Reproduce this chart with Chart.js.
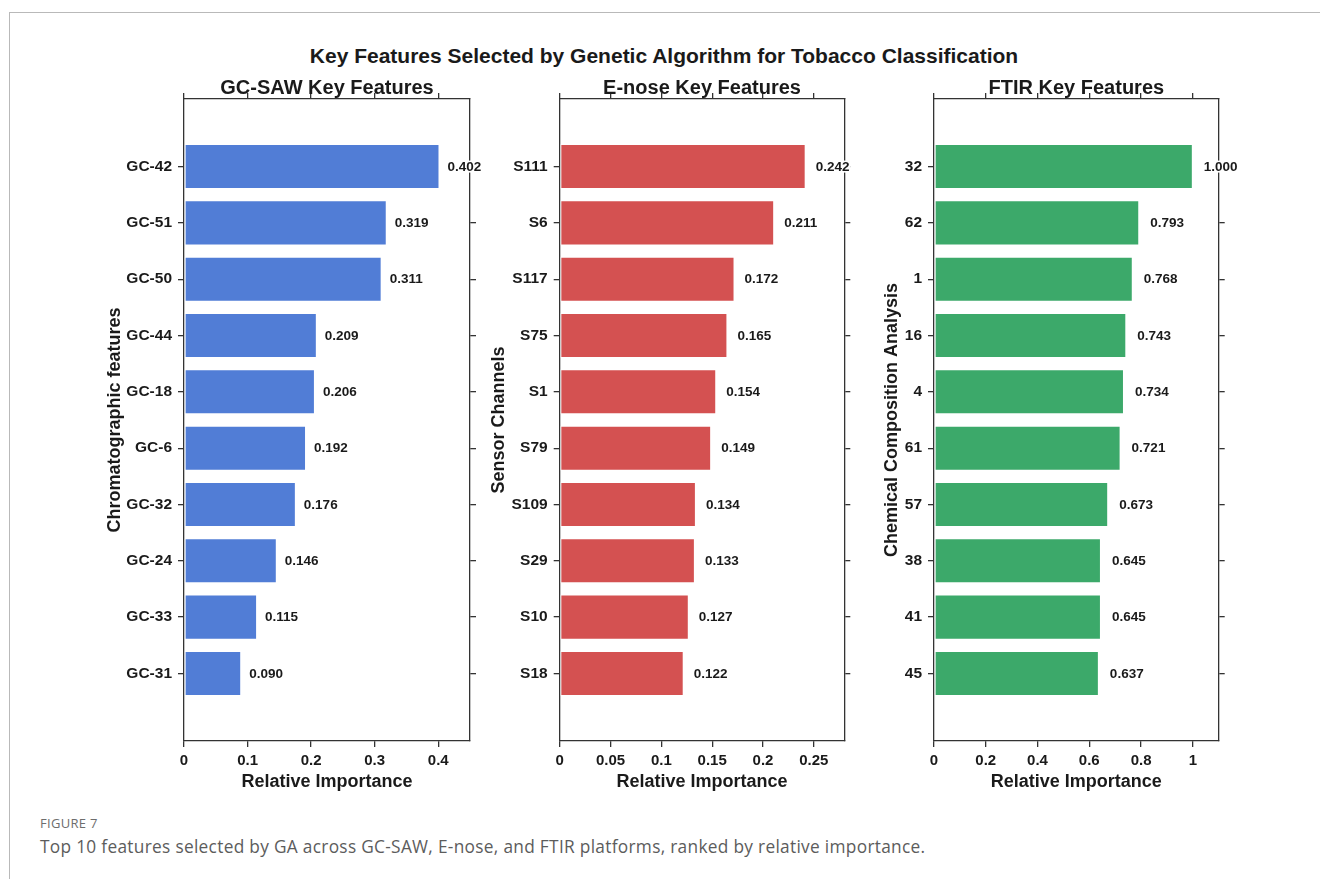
<!DOCTYPE html>
<html>
<head>
<meta charset="utf-8">
<script src="https://cdn.jsdelivr.net/npm/chart.js@4/dist/chart.umd.min.js"></script>
<style>
  html, body { margin: 0; padding: 0; background: #ffffff; }
  body { width: 1320px; height: 879px; position: relative; overflow: hidden; }
  .frame { position: absolute; left: 9px; top: 12px; right: -2px; bottom: -2px;
           border-top: 1px solid #b9b9b9; border-left: 1px solid #b9b9b9; }
  .suptitle { position: absolute; left: 664px; top: 56px; transform: translate(-50%, -50%);
              font: bold 21px "Liberation Sans", Arial, sans-serif; color: #1a1a1a; white-space: nowrap; }
  canvas { position: absolute; }
  .fig-no { position: absolute; left: 40px; top: 814px; font: 13px "Open Sans", sans-serif;
            color: #6d6d6d; letter-spacing: 0.3px; }
  .caption { position: absolute; left: 40px; top: 835px; font: 17.3px "Open Sans", sans-serif;
             color: #5c5c5c; white-space: nowrap; letter-spacing: 0.3px; }
</style>
</head>
<body>
<div class="frame"></div>
<div class="suptitle">Key Features Selected by Genetic Algorithm for Tobacco Classification</div>
<canvas id="gc" width="396" height="717" style="left:104px; top:76px;"></canvas>
<canvas id="enose" width="386" height="717" style="left:488px; top:76px;"></canvas>
<canvas id="ftir" width="368" height="717" style="left:881px; top:76px;"></canvas>
<div class="fig-no">FIGURE 7</div>
<div class="caption">Top 10 features selected by GA across GC-SAW, E-nose, and FTIR platforms, ranked by relative importance.</div>

<script>
// GC-SAW chromatographic features
const gcLabels = ['GC-42', 'GC-51', 'GC-50', 'GC-44', 'GC-18', 'GC-6', 'GC-32', 'GC-24', 'GC-33', 'GC-31'];
const gcValues = [0.402, 0.319, 0.311, 0.209, 0.206, 0.192, 0.176, 0.146, 0.115, 0.090];
const gcTicks = [0, 0.1, 0.2, 0.3, 0.4];

// E-nose sensor channels
const enoseLabels = ['S111', 'S6', 'S117', 'S75', 'S1', 'S79', 'S109', 'S29', 'S10', 'S18'];
const enoseValues = [0.242, 0.211, 0.172, 0.165, 0.154, 0.149, 0.134, 0.133, 0.127, 0.122];
const enoseTicks = [0, 0.05, 0.1, 0.15, 0.2, 0.25];

// FTIR chemical composition bands
const ftirLabels = ['32', '62', '1', '16', '4', '61', '57', '38', '41', '45'];
const ftirValues = [1.000, 0.793, 0.768, 0.743, 0.734, 0.721, 0.673, 0.645, 0.645, 0.637];
const ftirTicks = [0, 0.2, 0.4, 0.6, 0.8, 1];

const FONT = '"Liberation Sans", Arial, Helvetica, sans-serif';
const INK = '#1a1a1a';
const AXIS = '#333333';

// Writes each bar's value just past its end, on a white box so it sits over the frame.
const valueLabels = {
  id: 'valueLabels',
  afterDraw(chart, args, opts) {
    const ctx = chart.ctx;
    const meta = chart.getDatasetMeta(0);
    const vals = chart.data.datasets[0].data;
    ctx.save();
    ctx.font = 'bold 13.5px ' + FONT;
    ctx.textAlign = 'left';
    ctx.textBaseline = 'middle';
    meta.data.forEach((bar, i) => {
      const txt = vals[i].x.toFixed(3);
      const x = bar.x + opts.gap;
      const w = ctx.measureText(txt).width;
      ctx.fillStyle = '#ffffff';
      ctx.fillRect(x - 1, bar.y - 6, w + 2, 12);
      ctx.fillStyle = INK;
      ctx.fillText(txt, x, bar.y + 0.5);
    });
    ctx.restore();
  }
};

function fmt(v) {
  return String(parseFloat(v.toFixed(3)));
}

function panel(id, title, yTitle, labels, values, ticks, xMax, color, geo) {
  const points = values.map((v, i) => ({ x: v, y: i }));
  const rows = labels.map((_, i) => ({ value: i }));
  const cols = ticks.map(v => ({ value: v }));
  const grid = { display: true, offset: false, drawOnChartArea: false, drawTicks: true, tickLength: 6, tickColor: AXIS, lineWidth: 1.3 };
  const border = { display: true, color: AXIS, width: 1.3 };

  return new Chart(document.getElementById(id), {
    type: 'bar',
    data: {
      datasets: [{
        data: points,
        backgroundColor: color,
        borderColor: 'rgba(255,255,255,0.55)',
        borderWidth: 1,
        borderSkipped: false,
        barPercentage: 0.8,
        categoryPercentage: 1.0
      }]
    },
    options: {
      indexAxis: 'y',
      responsive: false,
      animation: false,
      layout: { padding: 0 },
      plugins: {
        legend: { display: false },
        tooltip: { enabled: false },
        title: { display: false },
        valueLabels: { gap: geo.gap }
      },
      scales: {
        x: {
          type: 'linear', position: 'bottom', min: 0, max: xMax, offset: false,
          afterBuildTicks: s => { s.ticks = cols.map(t => ({ ...t })); },
          afterFit: s => { s.height = geo.bottom; },
          ticks: { callback: v => fmt(v), font: { family: FONT, size: 15, weight: 'bold' }, color: INK, padding: 5, maxRotation: 0 },
          grid, border,
          title: { display: true, text: 'Relative Importance', font: { family: FONT, size: 18, weight: 'bold' }, color: INK, padding: 0 }
        },
        x2: {
          axis: 'x', type: 'linear', position: 'top', min: 0, max: xMax, offset: false,
          afterBuildTicks: s => { s.ticks = cols.map(t => ({ ...t })); },
          afterFit: s => { s.height = geo.top; },
          ticks: { display: false },
          grid, border,
          title: { display: true, text: title, font: { family: FONT, size: 20, weight: 'bold' }, color: INK, padding: 0 }
        },
        y: {
          type: 'linear', position: 'left', min: -1.2, max: 10.2, reverse: true, offset: false,
          afterBuildTicks: s => { s.ticks = rows.map(t => ({ ...t })); },
          afterFit: s => { s.width = geo.left; },
          ticks: { callback: v => labels[v], font: { family: FONT, size: 15.5, weight: 'bold' }, color: INK, padding: 6 },
          grid, border,
          title: { display: true, text: yTitle, font: { family: FONT, size: 18, weight: 'bold' }, color: INK, padding: 0 }
        },
        y2: {
          axis: 'y', type: 'linear', position: 'right', min: -1.2, max: 10.2, reverse: true, offset: false,
          afterBuildTicks: s => { s.ticks = rows.map(t => ({ ...t })); },
          afterFit: s => { s.width = geo.right; },
          ticks: { display: false },
          grid, border
        }
      }
    },
    plugins: [valueLabels]
  });
}

panel('gc', 'GC-SAW Key Features', 'Chromatographic features', gcLabels, gcValues, gcTicks, 0.45, '#517dd6',
      { left: 80, right: 30, top: 23, bottom: 52, gap: 8 });
panel('enose', 'E-nose Key Features', 'Sensor Channels', enoseLabels, enoseValues, enoseTicks, 0.28, '#d45151',
      { left: 71.7, right: 29.7, top: 23, bottom: 52, gap: 10 });
panel('ftir', 'FTIR Key Features', 'Chemical Composition Analysis', ftirLabels, ftirValues, ftirTicks, 1.1, '#3ca96a',
      { left: 53, right: 30.3, top: 23, bottom: 52, gap: 11 });
</script>
</body>
</html>
